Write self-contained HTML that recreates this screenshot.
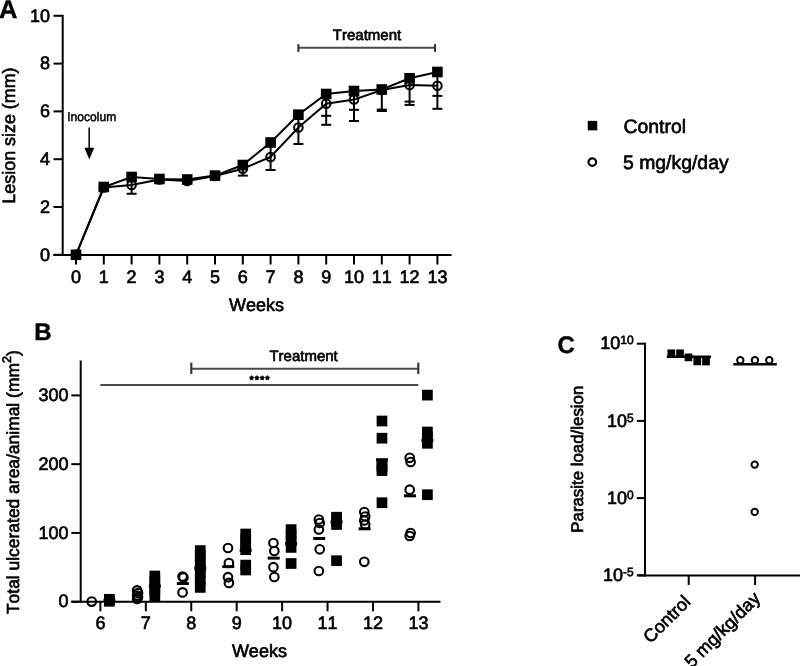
<!DOCTYPE html>
<html><head><meta charset="utf-8"><style>
html,body{margin:0;padding:0;background:#fff;}
svg{display:block;font-family:"Liberation Sans", sans-serif;filter:blur(0.3px);}
text{font-kerning:none;font-family:"Liberation Sans", sans-serif;text-rendering:geometricPrecision;}
</style></head><body>
<svg width="800" height="666" viewBox="0 0 800 666" font-family='"Liberation Sans", sans-serif'>
<rect width="800" height="666" fill="#fff"/>
<text x="-0.90" y="17.75" font-size="25.5" font-weight="bold" fill="#000" stroke="#000" stroke-width="0.4" stroke-linejoin="round" >A</text>
<line x1="62.70" y1="14.80" x2="62.70" y2="256.00" stroke="#000" stroke-width="2"/>
<line x1="53.50" y1="254.80" x2="62.70" y2="254.80" stroke="#000" stroke-width="2"/>
<text x="39.99" y="260.50" font-size="18" fill="#000" stroke="#000" stroke-width="0.65" stroke-linejoin="round" >0</text>
<line x1="53.50" y1="207.00" x2="62.70" y2="207.00" stroke="#000" stroke-width="2"/>
<text x="39.99" y="212.70" font-size="18" fill="#000" stroke="#000" stroke-width="0.65" stroke-linejoin="round" >2</text>
<line x1="53.50" y1="159.20" x2="62.70" y2="159.20" stroke="#000" stroke-width="2"/>
<text x="39.99" y="164.90" font-size="18" fill="#000" stroke="#000" stroke-width="0.65" stroke-linejoin="round" >4</text>
<line x1="53.50" y1="111.40" x2="62.70" y2="111.40" stroke="#000" stroke-width="2"/>
<text x="39.99" y="117.10" font-size="18" fill="#000" stroke="#000" stroke-width="0.65" stroke-linejoin="round" >6</text>
<line x1="53.50" y1="63.60" x2="62.70" y2="63.60" stroke="#000" stroke-width="2"/>
<text x="39.99" y="69.30" font-size="18" fill="#000" stroke="#000" stroke-width="0.65" stroke-linejoin="round" >8</text>
<line x1="53.50" y1="15.80" x2="62.70" y2="15.80" stroke="#000" stroke-width="2"/>
<text x="29.98" y="21.50" font-size="18" fill="#000" stroke="#000" stroke-width="0.65" stroke-linejoin="round" >10</text>
<line x1="53.50" y1="255.00" x2="451.60" y2="255.00" stroke="#000" stroke-width="2"/>
<line x1="76.00" y1="255.00" x2="76.00" y2="264.50" stroke="#000" stroke-width="2"/>
<text x="70.99" y="282.50" font-size="18" fill="#000" stroke="#000" stroke-width="0.65" stroke-linejoin="round" >0</text>
<line x1="103.80" y1="255.00" x2="103.80" y2="264.50" stroke="#000" stroke-width="2"/>
<text x="98.79" y="282.50" font-size="18" fill="#000" stroke="#000" stroke-width="0.65" stroke-linejoin="round" >1</text>
<line x1="131.60" y1="255.00" x2="131.60" y2="264.50" stroke="#000" stroke-width="2"/>
<text x="126.59" y="282.50" font-size="18" fill="#000" stroke="#000" stroke-width="0.65" stroke-linejoin="round" >2</text>
<line x1="159.40" y1="255.00" x2="159.40" y2="264.50" stroke="#000" stroke-width="2"/>
<text x="154.39" y="282.50" font-size="18" fill="#000" stroke="#000" stroke-width="0.65" stroke-linejoin="round" >3</text>
<line x1="187.20" y1="255.00" x2="187.20" y2="264.50" stroke="#000" stroke-width="2"/>
<text x="182.19" y="282.50" font-size="18" fill="#000" stroke="#000" stroke-width="0.65" stroke-linejoin="round" >4</text>
<line x1="215.00" y1="255.00" x2="215.00" y2="264.50" stroke="#000" stroke-width="2"/>
<text x="209.99" y="282.50" font-size="18" fill="#000" stroke="#000" stroke-width="0.65" stroke-linejoin="round" >5</text>
<line x1="242.80" y1="255.00" x2="242.80" y2="264.50" stroke="#000" stroke-width="2"/>
<text x="237.79" y="282.50" font-size="18" fill="#000" stroke="#000" stroke-width="0.65" stroke-linejoin="round" >6</text>
<line x1="270.60" y1="255.00" x2="270.60" y2="264.50" stroke="#000" stroke-width="2"/>
<text x="265.59" y="282.50" font-size="18" fill="#000" stroke="#000" stroke-width="0.65" stroke-linejoin="round" >7</text>
<line x1="298.40" y1="255.00" x2="298.40" y2="264.50" stroke="#000" stroke-width="2"/>
<text x="293.39" y="282.50" font-size="18" fill="#000" stroke="#000" stroke-width="0.65" stroke-linejoin="round" >8</text>
<line x1="326.20" y1="255.00" x2="326.20" y2="264.50" stroke="#000" stroke-width="2"/>
<text x="321.19" y="282.50" font-size="18" fill="#000" stroke="#000" stroke-width="0.65" stroke-linejoin="round" >9</text>
<line x1="354.00" y1="255.00" x2="354.00" y2="264.50" stroke="#000" stroke-width="2"/>
<text x="343.99" y="282.50" font-size="18" fill="#000" stroke="#000" stroke-width="0.65" stroke-linejoin="round" >10</text>
<line x1="381.80" y1="255.00" x2="381.80" y2="264.50" stroke="#000" stroke-width="2"/>
<text x="371.79" y="282.50" font-size="18" fill="#000" stroke="#000" stroke-width="0.65" stroke-linejoin="round" >11</text>
<line x1="409.60" y1="255.00" x2="409.60" y2="264.50" stroke="#000" stroke-width="2"/>
<text x="399.59" y="282.50" font-size="18" fill="#000" stroke="#000" stroke-width="0.65" stroke-linejoin="round" >12</text>
<line x1="437.40" y1="255.00" x2="437.40" y2="264.50" stroke="#000" stroke-width="2"/>
<text x="427.39" y="282.50" font-size="18" fill="#000" stroke="#000" stroke-width="0.65" stroke-linejoin="round" >13</text>
<text x="228.99" y="311.00" font-size="18" fill="#000" stroke="#000" stroke-width="0.65" stroke-linejoin="round" >Weeks</text>
<text x="-68.13" y="0.00" font-size="17.9" fill="#000" stroke="#000" stroke-width="0.65" stroke-linejoin="round" transform="translate(15.3,135.5) rotate(-90)">Lesion size (mm)</text>
<text x="70.00" y="121.00" font-size="12.6" fill="#000" stroke="#000" stroke-width="0.5" stroke-linejoin="round" transform="scale(0.96,1)">Inocolum</text>
<line x1="89.20" y1="127.50" x2="89.20" y2="149.00" stroke="#000" stroke-width="1.5"/>
<polygon points="84.4,147.8 94.2,147.8 89.3,159.4" fill="#000"/>
<text x="332.82" y="40.00" font-size="15" fill="#000" stroke="#000" stroke-width="0.65" stroke-linejoin="round" >Treatment</text>
<line x1="298.40" y1="47.70" x2="435.00" y2="47.70" stroke="#4a4a4a" stroke-width="1.9"/>
<line x1="298.40" y1="44.10" x2="298.40" y2="51.90" stroke="#333" stroke-width="2.1"/>
<line x1="435.00" y1="44.10" x2="435.00" y2="51.90" stroke="#333" stroke-width="2.1"/>
<line x1="131.60" y1="177.00" x2="131.60" y2="193.75" stroke="#000" stroke-width="2"/>
<line x1="126.60" y1="193.75" x2="136.60" y2="193.75" stroke="#000" stroke-width="2"/>
<line x1="242.80" y1="165.00" x2="242.80" y2="175.60" stroke="#000" stroke-width="2"/>
<line x1="237.80" y1="175.60" x2="247.80" y2="175.60" stroke="#000" stroke-width="2"/>
<line x1="270.60" y1="142.50" x2="270.60" y2="170.00" stroke="#000" stroke-width="2"/>
<line x1="265.60" y1="170.00" x2="275.60" y2="170.00" stroke="#000" stroke-width="2"/>
<line x1="298.40" y1="114.70" x2="298.40" y2="144.00" stroke="#000" stroke-width="2"/>
<line x1="293.40" y1="144.00" x2="303.40" y2="144.00" stroke="#000" stroke-width="2"/>
<line x1="326.20" y1="94.00" x2="326.20" y2="124.80" stroke="#000" stroke-width="2"/>
<line x1="321.20" y1="115.80" x2="331.20" y2="115.80" stroke="#000" stroke-width="2"/>
<line x1="321.20" y1="124.80" x2="331.20" y2="124.80" stroke="#000" stroke-width="2"/>
<line x1="354.00" y1="91.00" x2="354.00" y2="121.00" stroke="#000" stroke-width="2"/>
<line x1="349.00" y1="109.80" x2="359.00" y2="109.80" stroke="#000" stroke-width="2"/>
<line x1="349.00" y1="121.00" x2="359.00" y2="121.00" stroke="#000" stroke-width="2"/>
<line x1="381.80" y1="89.50" x2="381.80" y2="111.00" stroke="#000" stroke-width="2"/>
<line x1="376.80" y1="109.60" x2="386.80" y2="109.60" stroke="#000" stroke-width="2"/>
<line x1="376.80" y1="111.00" x2="386.80" y2="111.00" stroke="#000" stroke-width="2"/>
<line x1="409.60" y1="78.30" x2="409.60" y2="104.90" stroke="#000" stroke-width="2"/>
<line x1="404.60" y1="101.60" x2="414.60" y2="101.60" stroke="#000" stroke-width="2"/>
<line x1="404.60" y1="104.90" x2="414.60" y2="104.90" stroke="#000" stroke-width="2"/>
<line x1="437.40" y1="72.00" x2="437.40" y2="108.80" stroke="#000" stroke-width="2"/>
<line x1="432.40" y1="95.90" x2="442.40" y2="95.90" stroke="#000" stroke-width="2"/>
<line x1="432.40" y1="108.80" x2="442.40" y2="108.80" stroke="#000" stroke-width="2"/>
<polyline points="76.00,254.80 103.80,187.00 131.60,177.00 159.40,179.00 187.20,179.50 215.00,175.60 242.80,165.00 270.60,142.50 298.40,114.70 326.20,94.00 354.00,91.00 381.80,89.50 409.60,78.30 437.40,72.00" fill="none" stroke="#000" stroke-width="2"/>
<polyline points="76.00,254.80 103.80,187.50 131.60,185.00 159.40,179.50 187.20,181.00 215.00,176.00 242.80,168.75 270.60,157.00 298.40,127.50 326.20,103.80 354.00,99.60 381.80,90.00 409.60,85.00 437.40,85.80" fill="none" stroke="#000" stroke-width="2"/>
<circle cx="76.00" cy="254.80" r="4.3" fill="none" stroke="#000" stroke-width="2"/>
<circle cx="103.80" cy="187.50" r="4.3" fill="none" stroke="#000" stroke-width="2"/>
<circle cx="131.60" cy="185.00" r="4.3" fill="none" stroke="#000" stroke-width="2"/>
<circle cx="159.40" cy="179.50" r="4.3" fill="none" stroke="#000" stroke-width="2"/>
<circle cx="187.20" cy="181.00" r="4.3" fill="none" stroke="#000" stroke-width="2"/>
<circle cx="215.00" cy="176.00" r="4.3" fill="none" stroke="#000" stroke-width="2"/>
<circle cx="242.80" cy="168.75" r="4.3" fill="none" stroke="#000" stroke-width="2"/>
<circle cx="270.60" cy="157.00" r="4.3" fill="none" stroke="#000" stroke-width="2"/>
<circle cx="298.40" cy="127.50" r="4.3" fill="none" stroke="#000" stroke-width="2"/>
<circle cx="326.20" cy="103.80" r="4.3" fill="none" stroke="#000" stroke-width="2"/>
<circle cx="354.00" cy="99.60" r="4.3" fill="none" stroke="#000" stroke-width="2"/>
<circle cx="381.80" cy="90.00" r="4.3" fill="none" stroke="#000" stroke-width="2"/>
<circle cx="409.60" cy="85.00" r="4.3" fill="none" stroke="#000" stroke-width="2"/>
<circle cx="437.40" cy="85.80" r="4.3" fill="none" stroke="#000" stroke-width="2"/>
<rect x="70.70" y="249.50" width="10.6" height="10.6" fill="#000"/>
<rect x="98.50" y="181.70" width="10.6" height="10.6" fill="#000"/>
<rect x="126.30" y="171.70" width="10.6" height="10.6" fill="#000"/>
<rect x="154.10" y="173.70" width="10.6" height="10.6" fill="#000"/>
<rect x="181.90" y="174.20" width="10.6" height="10.6" fill="#000"/>
<rect x="209.70" y="170.30" width="10.6" height="10.6" fill="#000"/>
<rect x="237.50" y="159.70" width="10.6" height="10.6" fill="#000"/>
<rect x="265.30" y="137.20" width="10.6" height="10.6" fill="#000"/>
<rect x="293.10" y="109.40" width="10.6" height="10.6" fill="#000"/>
<rect x="320.90" y="88.70" width="10.6" height="10.6" fill="#000"/>
<rect x="348.70" y="85.70" width="10.6" height="10.6" fill="#000"/>
<rect x="376.50" y="84.20" width="10.6" height="10.6" fill="#000"/>
<rect x="404.30" y="73.00" width="10.6" height="10.6" fill="#000"/>
<rect x="432.10" y="66.70" width="10.6" height="10.6" fill="#000"/>
<rect x="587.75" y="120.85" width="9.5" height="9.5" fill="#000"/>
<text x="623.50" y="132.60" font-size="19.4" fill="#000" stroke="#000" stroke-width="0.65" stroke-linejoin="round" >Control</text>
<circle cx="592.30" cy="162.10" r="3.8" fill="none" stroke="#000" stroke-width="2.2"/>
<text x="623.00" y="168.70" font-size="19.4" fill="#000" stroke="#000" stroke-width="0.65" stroke-linejoin="round" >5 mg/kg/day</text>
<text x="34.20" y="339.50" font-size="24" font-weight="bold" fill="#000" stroke="#000" stroke-width="0.4" stroke-linejoin="round" >B</text>
<line x1="80.70" y1="360.50" x2="80.70" y2="602.70" stroke="#000" stroke-width="2"/>
<line x1="71.30" y1="601.70" x2="80.70" y2="601.70" stroke="#000" stroke-width="2"/>
<text x="58.49" y="607.40" font-size="18" fill="#000" stroke="#000" stroke-width="0.65" stroke-linejoin="round" >0</text>
<line x1="71.30" y1="532.93" x2="80.70" y2="532.93" stroke="#000" stroke-width="2"/>
<text x="38.47" y="538.63" font-size="18" fill="#000" stroke="#000" stroke-width="0.65" stroke-linejoin="round" >100</text>
<line x1="71.30" y1="464.16" x2="80.70" y2="464.16" stroke="#000" stroke-width="2"/>
<text x="38.47" y="469.86" font-size="18" fill="#000" stroke="#000" stroke-width="0.65" stroke-linejoin="round" >200</text>
<line x1="71.30" y1="395.39" x2="80.70" y2="395.39" stroke="#000" stroke-width="2"/>
<text x="38.47" y="401.09" font-size="18" fill="#000" stroke="#000" stroke-width="0.65" stroke-linejoin="round" >300</text>
<line x1="71.30" y1="601.70" x2="440.50" y2="601.70" stroke="#000" stroke-width="2"/>
<line x1="100.40" y1="601.70" x2="100.40" y2="611.30" stroke="#000" stroke-width="2"/>
<text x="95.39" y="629.20" font-size="18" fill="#000" stroke="#000" stroke-width="0.65" stroke-linejoin="round" >6</text>
<line x1="145.83" y1="601.70" x2="145.83" y2="611.30" stroke="#000" stroke-width="2"/>
<text x="140.82" y="629.20" font-size="18" fill="#000" stroke="#000" stroke-width="0.65" stroke-linejoin="round" >7</text>
<line x1="191.26" y1="601.70" x2="191.26" y2="611.30" stroke="#000" stroke-width="2"/>
<text x="186.25" y="629.20" font-size="18" fill="#000" stroke="#000" stroke-width="0.65" stroke-linejoin="round" >8</text>
<line x1="236.69" y1="601.70" x2="236.69" y2="611.30" stroke="#000" stroke-width="2"/>
<text x="231.68" y="629.20" font-size="18" fill="#000" stroke="#000" stroke-width="0.65" stroke-linejoin="round" >9</text>
<line x1="282.12" y1="601.70" x2="282.12" y2="611.30" stroke="#000" stroke-width="2"/>
<text x="272.11" y="629.20" font-size="18" fill="#000" stroke="#000" stroke-width="0.65" stroke-linejoin="round" >10</text>
<line x1="327.55" y1="601.70" x2="327.55" y2="611.30" stroke="#000" stroke-width="2"/>
<text x="317.54" y="629.20" font-size="18" fill="#000" stroke="#000" stroke-width="0.65" stroke-linejoin="round" >11</text>
<line x1="372.98" y1="601.70" x2="372.98" y2="611.30" stroke="#000" stroke-width="2"/>
<text x="362.97" y="629.20" font-size="18" fill="#000" stroke="#000" stroke-width="0.65" stroke-linejoin="round" >12</text>
<line x1="418.41" y1="601.70" x2="418.41" y2="611.30" stroke="#000" stroke-width="2"/>
<text x="408.40" y="629.20" font-size="18" fill="#000" stroke="#000" stroke-width="0.65" stroke-linejoin="round" >13</text>
<text x="231.89" y="657.00" font-size="18" fill="#000" stroke="#000" stroke-width="0.65" stroke-linejoin="round" >Weeks</text>
<text x="-131.97" y="0.00" font-size="17.45" fill="#000" stroke="#000" stroke-width="0.65" stroke-linejoin="round" transform="translate(18.8,482.1) rotate(-90)">Total ulcerated area/animal (mm</text>
<text x="119.21" y="-8.00" font-size="12.5" fill="#000" stroke="#000" stroke-width="0.65" stroke-linejoin="round" transform="translate(18.8,482.1) rotate(-90)">2</text>
<text x="126.16" y="0.00" font-size="17.45" fill="#000" stroke="#000" stroke-width="0.65" stroke-linejoin="round" transform="translate(18.8,482.1) rotate(-90)">)</text>
<text x="269.42" y="360.70" font-size="15" fill="#000" stroke="#000" stroke-width="0.65" stroke-linejoin="round" >Treatment</text>
<line x1="191.30" y1="368.80" x2="418.30" y2="368.80" stroke="#4a4a4a" stroke-width="1.9"/>
<line x1="191.30" y1="362.60" x2="191.30" y2="374.00" stroke="#333" stroke-width="2.1"/>
<line x1="418.30" y1="362.60" x2="418.30" y2="374.00" stroke="#333" stroke-width="2.1"/>
<polygon points="251.60,375.65 252.45,376.73 253.74,377.20 252.98,378.35 252.92,379.72 251.60,379.35 250.28,379.72 250.22,378.35 249.46,377.20 250.75,376.73" fill="#000" stroke="#000" stroke-width="0.9" stroke-linejoin="round"/>
<polygon points="256.90,375.65 257.75,376.73 259.04,377.20 258.28,378.35 258.22,379.72 256.90,379.35 255.58,379.72 255.52,378.35 254.76,377.20 256.05,376.73" fill="#000" stroke="#000" stroke-width="0.9" stroke-linejoin="round"/>
<polygon points="262.20,375.65 263.05,376.73 264.34,377.20 263.58,378.35 263.52,379.72 262.20,379.35 260.88,379.72 260.82,378.35 260.06,377.20 261.35,376.73" fill="#000" stroke="#000" stroke-width="0.9" stroke-linejoin="round"/>
<polygon points="267.40,375.65 268.25,376.73 269.54,377.20 268.78,378.35 268.72,379.72 267.40,379.35 266.08,379.72 266.02,378.35 265.26,377.20 266.55,376.73" fill="#000" stroke="#000" stroke-width="0.9" stroke-linejoin="round"/>
<line x1="100.30" y1="385.00" x2="418.30" y2="385.00" stroke="#4a4a4a" stroke-width="1.9"/>
<circle cx="91.70" cy="601.60" r="4.3" fill="none" stroke="#000" stroke-width="2.1"/>
<circle cx="137.13" cy="590.40" r="4.3" fill="none" stroke="#000" stroke-width="2.1"/>
<circle cx="138.03" cy="593.00" r="4.3" fill="none" stroke="#000" stroke-width="2.1"/>
<circle cx="137.13" cy="595.50" r="4.3" fill="none" stroke="#000" stroke-width="2.1"/>
<circle cx="138.03" cy="597.00" r="4.3" fill="none" stroke="#000" stroke-width="2.1"/>
<circle cx="137.13" cy="599.00" r="4.3" fill="none" stroke="#000" stroke-width="2.1"/>
<circle cx="182.56" cy="576.50" r="4.3" fill="none" stroke="#000" stroke-width="2.1"/>
<circle cx="183.46" cy="577.50" r="4.3" fill="none" stroke="#000" stroke-width="2.1"/>
<circle cx="182.56" cy="592.40" r="4.3" fill="none" stroke="#000" stroke-width="2.1"/>
<circle cx="227.99" cy="548.00" r="4.3" fill="none" stroke="#000" stroke-width="2.1"/>
<circle cx="228.89" cy="563.00" r="4.3" fill="none" stroke="#000" stroke-width="2.1"/>
<circle cx="227.99" cy="577.20" r="4.3" fill="none" stroke="#000" stroke-width="2.1"/>
<circle cx="228.89" cy="582.90" r="4.3" fill="none" stroke="#000" stroke-width="2.1"/>
<circle cx="273.42" cy="543.00" r="4.3" fill="none" stroke="#000" stroke-width="2.1"/>
<circle cx="274.32" cy="551.00" r="4.3" fill="none" stroke="#000" stroke-width="2.1"/>
<circle cx="273.42" cy="567.20" r="4.3" fill="none" stroke="#000" stroke-width="2.1"/>
<circle cx="274.32" cy="577.00" r="4.3" fill="none" stroke="#000" stroke-width="2.1"/>
<circle cx="318.85" cy="519.50" r="4.3" fill="none" stroke="#000" stroke-width="2.1"/>
<circle cx="319.75" cy="523.00" r="4.3" fill="none" stroke="#000" stroke-width="2.1"/>
<circle cx="318.85" cy="529.50" r="4.3" fill="none" stroke="#000" stroke-width="2.1"/>
<circle cx="319.75" cy="549.30" r="4.3" fill="none" stroke="#000" stroke-width="2.1"/>
<circle cx="318.85" cy="571.00" r="4.3" fill="none" stroke="#000" stroke-width="2.1"/>
<circle cx="364.28" cy="512.00" r="4.3" fill="none" stroke="#000" stroke-width="2.1"/>
<circle cx="365.18" cy="516.50" r="4.3" fill="none" stroke="#000" stroke-width="2.1"/>
<circle cx="364.28" cy="520.50" r="4.3" fill="none" stroke="#000" stroke-width="2.1"/>
<circle cx="365.18" cy="524.50" r="4.3" fill="none" stroke="#000" stroke-width="2.1"/>
<circle cx="364.28" cy="561.80" r="4.3" fill="none" stroke="#000" stroke-width="2.1"/>
<circle cx="409.71" cy="457.80" r="4.3" fill="none" stroke="#000" stroke-width="2.1"/>
<circle cx="410.61" cy="462.00" r="4.3" fill="none" stroke="#000" stroke-width="2.1"/>
<circle cx="409.71" cy="489.70" r="4.3" fill="none" stroke="#000" stroke-width="2.1"/>
<circle cx="410.61" cy="533.00" r="4.3" fill="none" stroke="#000" stroke-width="2.1"/>
<circle cx="409.71" cy="536.00" r="4.3" fill="none" stroke="#000" stroke-width="2.1"/>
<line x1="176.86" y1="583.50" x2="188.86" y2="583.50" stroke="#000" stroke-width="3"/>
<line x1="222.29" y1="566.60" x2="234.29" y2="566.60" stroke="#000" stroke-width="3"/>
<line x1="267.72" y1="558.10" x2="279.72" y2="558.10" stroke="#000" stroke-width="3"/>
<line x1="313.15" y1="538.50" x2="325.15" y2="538.50" stroke="#000" stroke-width="3"/>
<line x1="358.58" y1="528.80" x2="370.58" y2="528.80" stroke="#000" stroke-width="3"/>
<line x1="404.01" y1="495.80" x2="416.01" y2="495.80" stroke="#000" stroke-width="3"/>
<rect x="104.05" y="593.95" width="10.7" height="10.7" fill="#000"/>
<rect x="104.05" y="595.95" width="10.7" height="10.7" fill="#000"/>
<rect x="149.48" y="570.65" width="10.7" height="10.7" fill="#000"/>
<rect x="149.48" y="575.65" width="10.7" height="10.7" fill="#000"/>
<rect x="149.48" y="580.65" width="10.7" height="10.7" fill="#000"/>
<rect x="149.48" y="585.65" width="10.7" height="10.7" fill="#000"/>
<rect x="149.48" y="590.65" width="10.7" height="10.7" fill="#000"/>
<rect x="194.91" y="545.25" width="10.7" height="10.7" fill="#000"/>
<rect x="194.91" y="550.65" width="10.7" height="10.7" fill="#000"/>
<rect x="194.91" y="556.65" width="10.7" height="10.7" fill="#000"/>
<rect x="194.91" y="562.65" width="10.7" height="10.7" fill="#000"/>
<rect x="194.91" y="568.65" width="10.7" height="10.7" fill="#000"/>
<rect x="194.91" y="574.65" width="10.7" height="10.7" fill="#000"/>
<rect x="194.91" y="582.05" width="10.7" height="10.7" fill="#000"/>
<rect x="240.34" y="528.65" width="10.7" height="10.7" fill="#000"/>
<rect x="240.34" y="533.65" width="10.7" height="10.7" fill="#000"/>
<rect x="240.34" y="538.65" width="10.7" height="10.7" fill="#000"/>
<rect x="240.34" y="544.35" width="10.7" height="10.7" fill="#000"/>
<rect x="240.34" y="559.75" width="10.7" height="10.7" fill="#000"/>
<rect x="240.34" y="564.65" width="10.7" height="10.7" fill="#000"/>
<rect x="285.77" y="524.25" width="10.7" height="10.7" fill="#000"/>
<rect x="285.77" y="529.65" width="10.7" height="10.7" fill="#000"/>
<rect x="285.77" y="535.65" width="10.7" height="10.7" fill="#000"/>
<rect x="285.77" y="542.05" width="10.7" height="10.7" fill="#000"/>
<rect x="285.77" y="558.15" width="10.7" height="10.7" fill="#000"/>
<rect x="331.20" y="511.85" width="10.7" height="10.7" fill="#000"/>
<rect x="331.20" y="515.65" width="10.7" height="10.7" fill="#000"/>
<rect x="331.20" y="519.15" width="10.7" height="10.7" fill="#000"/>
<rect x="331.20" y="555.35" width="10.7" height="10.7" fill="#000"/>
<rect x="376.63" y="415.65" width="10.7" height="10.7" fill="#000"/>
<rect x="376.63" y="432.85" width="10.7" height="10.7" fill="#000"/>
<rect x="376.63" y="458.65" width="10.7" height="10.7" fill="#000"/>
<rect x="376.63" y="461.65" width="10.7" height="10.7" fill="#000"/>
<rect x="376.63" y="465.25" width="10.7" height="10.7" fill="#000"/>
<rect x="376.63" y="497.35" width="10.7" height="10.7" fill="#000"/>
<rect x="422.06" y="389.75" width="10.7" height="10.7" fill="#000"/>
<rect x="422.06" y="426.65" width="10.7" height="10.7" fill="#000"/>
<rect x="422.06" y="431.65" width="10.7" height="10.7" fill="#000"/>
<rect x="422.06" y="437.95" width="10.7" height="10.7" fill="#000"/>
<rect x="422.06" y="489.35" width="10.7" height="10.7" fill="#000"/>
<line x1="103.40" y1="600.30" x2="115.40" y2="600.30" stroke="#000" stroke-width="3"/>
<line x1="148.83" y1="586.00" x2="160.83" y2="586.00" stroke="#000" stroke-width="3"/>
<line x1="194.26" y1="568.30" x2="206.26" y2="568.30" stroke="#000" stroke-width="3"/>
<line x1="239.69" y1="550.30" x2="251.69" y2="550.30" stroke="#000" stroke-width="3"/>
<line x1="285.12" y1="543.30" x2="297.12" y2="543.30" stroke="#000" stroke-width="3"/>
<line x1="330.55" y1="522.00" x2="342.55" y2="522.00" stroke="#000" stroke-width="3"/>
<line x1="375.98" y1="459.80" x2="387.98" y2="459.80" stroke="#000" stroke-width="3"/>
<line x1="421.41" y1="440.40" x2="433.41" y2="440.40" stroke="#000" stroke-width="3"/>
<text x="557.60" y="353.20" font-size="24" font-weight="bold" fill="#000" stroke="#000" stroke-width="0.4" stroke-linejoin="round" >C</text>
<line x1="645.00" y1="342.70" x2="645.00" y2="576.40" stroke="#000" stroke-width="2"/>
<line x1="636.80" y1="343.70" x2="645.00" y2="343.70" stroke="#000" stroke-width="2"/>
<line x1="636.80" y1="420.90" x2="645.00" y2="420.90" stroke="#000" stroke-width="2"/>
<line x1="636.80" y1="498.10" x2="645.00" y2="498.10" stroke="#000" stroke-width="2"/>
<line x1="636.80" y1="575.30" x2="645.00" y2="575.30" stroke="#000" stroke-width="2"/>
<text x="600.23" y="349.40" font-size="18" fill="#000" stroke="#000" stroke-width="0.65" stroke-linejoin="round" >10</text>
<text x="620.25" y="344.40" font-size="12" fill="#000" stroke="#000" stroke-width="0.65" stroke-linejoin="round" >10</text>
<text x="606.90" y="426.60" font-size="18" fill="#000" stroke="#000" stroke-width="0.65" stroke-linejoin="round" >10</text>
<text x="626.93" y="421.60" font-size="12" fill="#000" stroke="#000" stroke-width="0.65" stroke-linejoin="round" >5</text>
<text x="606.90" y="503.80" font-size="18" fill="#000" stroke="#000" stroke-width="0.65" stroke-linejoin="round" >10</text>
<text x="626.93" y="498.80" font-size="12" fill="#000" stroke="#000" stroke-width="0.65" stroke-linejoin="round" >0</text>
<text x="602.91" y="581.00" font-size="18" fill="#000" stroke="#000" stroke-width="0.65" stroke-linejoin="round" >10</text>
<text x="622.93" y="576.00" font-size="12" fill="#000" stroke="#000" stroke-width="0.65" stroke-linejoin="round" >-5</text>
<line x1="637.60" y1="575.40" x2="800.00" y2="575.40" stroke="#000" stroke-width="2"/>
<line x1="688.70" y1="575.40" x2="688.70" y2="585.00" stroke="#000" stroke-width="2"/>
<line x1="755.10" y1="575.40" x2="755.10" y2="585.00" stroke="#000" stroke-width="2"/>
<text x="-73.53" y="0.00" font-size="16.85" fill="#000" stroke="#000" stroke-width="0.65" stroke-linejoin="round" transform="translate(582.6,459.2) rotate(-90)">Parasite load/lesion</text>
<text x="-58.03" y="0.00" font-size="18" fill="#000" stroke="#000" stroke-width="0.65" stroke-linejoin="round" transform="translate(691.6,603) rotate(-45)">Control</text>
<text x="-98.05" y="0.00" font-size="18" fill="#000" stroke="#000" stroke-width="0.65" stroke-linejoin="round" transform="translate(761.3,599.5) rotate(-45)">5 mg/kg/day</text>
<rect x="667.45" y="349.45" width="7.7" height="7.7" fill="#000"/>
<rect x="676.15" y="349.45" width="7.7" height="7.7" fill="#000"/>
<rect x="684.65" y="353.55" width="7.7" height="7.7" fill="#000"/>
<rect x="693.45" y="357.55" width="7.7" height="7.7" fill="#000"/>
<rect x="702.15" y="357.65" width="7.7" height="7.7" fill="#000"/>
<line x1="666.80" y1="356.80" x2="711.00" y2="356.80" stroke="#000" stroke-width="2.6"/>
<circle cx="740.30" cy="360.30" r="3.2" fill="none" stroke="#000" stroke-width="2.0"/>
<circle cx="754.90" cy="360.30" r="3.2" fill="none" stroke="#000" stroke-width="2.0"/>
<circle cx="769.30" cy="360.30" r="3.2" fill="none" stroke="#000" stroke-width="2.0"/>
<circle cx="754.70" cy="464.60" r="3.2" fill="none" stroke="#000" stroke-width="2.0"/>
<circle cx="754.70" cy="511.90" r="3.2" fill="none" stroke="#000" stroke-width="2.0"/>
<line x1="733.30" y1="364.30" x2="776.80" y2="364.30" stroke="#000" stroke-width="2.6"/>
</svg>
</body></html>
